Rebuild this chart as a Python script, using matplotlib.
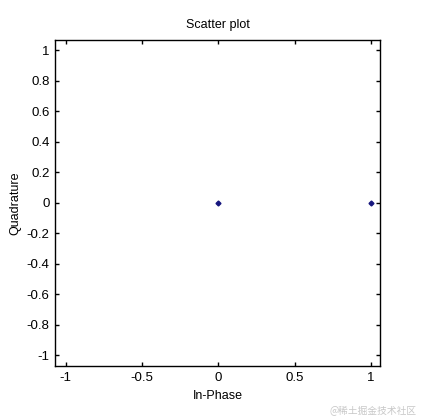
import matplotlib
matplotlib.use("Agg")
from matplotlib import pyplot as plt

# Data ========================================================================

in_phase = [0, 1]
quadrature = [0, 0]
x_ticks = [-1, -0.5, 0, 0.5, 1]
y_ticks = [-1, -0.8, -0.6, -0.4, -0.2, 0, 0.2, 0.4, 0.6, 0.8, 1]

# Plot ========================================================================

plt.rcParams['font.family'] = ['Liberation Sans', 'DejaVu Sans']

fig = plt.figure(figsize=(4.21, 4.20), dpi=100)
ax = fig.add_axes([0.1306, 0.1286, 0.772, 0.776])

ax.plot(in_phase, quadrature, 'D', color='#16167e', markersize=2.5)

ax.set_xlim(-1.07, 1.06)
ax.set_ylim(-1.072, 1.066)
ax.set_xticks(x_ticks)
ax.set_xticklabels([f"{t:g}" for t in x_ticks])
ax.set_yticks(y_ticks)
ax.set_yticklabels([f"{t:g}" for t in y_ticks])
ax.tick_params(direction='in', length=3, width=1, labelsize=9.5,
               top=True, right=True, pad=4)
for s in ax.spines.values():
    s.set_linewidth(1)

ax.set_title("Scatter plot", fontsize=9, pad=9)
ax.set_xlabel("In-Phase", fontsize=9, labelpad=5)
ax.set_ylabel("Quadrature", fontsize=9, labelpad=4)

fig.text(0.99, 0.01, "@稀土掘金技术社区", ha='right', va='bottom',
         fontsize=7, color='#c8c8c8',
         family=['Noto Sans CJK SC', 'DejaVu Sans'])

fig.savefig("out.png", dpi=100)
